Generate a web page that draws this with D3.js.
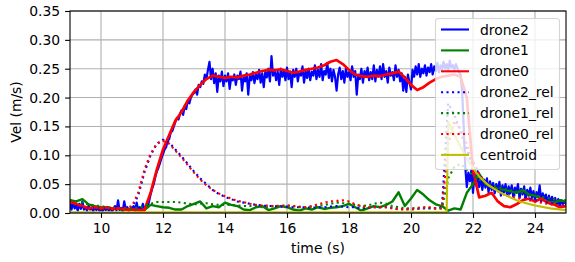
<!DOCTYPE html>
<html>
<head>
<meta charset="utf-8">
<script src="https://cdn.jsdelivr.net/npm/d3@7"></script>
<style>
  body { margin: 0; background: #fff; }
  text { font-family: "DejaVu Sans", sans-serif; fill: #000; }
</style>
</head>
<body>
<div id="chart"></div>
<script>
// sample times (s)
const tBlue = d3.range(180, 501).map(i => i / 20);   // 0.05 s step
const tCoarse = d3.range(45, 126).map(i => i / 5);   // 0.2 s step

// drone2, 0.05 s step, one row per second
const drone2 = [
  0.014, 0.006, 0.018, 0.008, 0.012, 0.004, 0.016, 0.007, 0.020, 0.006, 0.010, 0.004, 0.013, 0.006, 0.009, 0.003, 0.011, 0.005, 0.008, 0.004,
  0.007, 0.003, 0.010, 0.005, 0.008, 0.004, 0.009, 0.003, 0.006, 0.012, 0.004, 0.022, 0.005, 0.009, 0.003, 0.020, 0.006, 0.010, 0.004, 0.008,
  0.006, 0.012, 0.004, 0.018, 0.006, 0.010, 0.005, 0.016, 0.007, 0.011, 0.010, 0.020, 0.032, 0.042, 0.050, 0.062, 0.072, 0.078, 0.086, 0.095,
  0.102, 0.110, 0.114, 0.125, 0.128, 0.140, 0.142, 0.150, 0.158, 0.165, 0.162, 0.172, 0.178, 0.170, 0.186, 0.180, 0.195, 0.190, 0.200, 0.205,
  0.208, 0.214, 0.205, 0.222, 0.218, 0.228, 0.224, 0.240, 0.232, 0.248, 0.262, 0.232, 0.250, 0.225, 0.242, 0.210, 0.238, 0.228, 0.245, 0.220,
  0.238, 0.228, 0.242, 0.215, 0.235, 0.230, 0.240, 0.222, 0.238, 0.232, 0.245, 0.212, 0.236, 0.228, 0.242, 0.205, 0.238, 0.230, 0.244, 0.225,
  0.240, 0.232, 0.248, 0.226, 0.242, 0.218, 0.245, 0.235, 0.250, 0.228, 0.272, 0.238, 0.248, 0.230, 0.245, 0.222, 0.250, 0.236, 0.246, 0.230,
  0.252, 0.232, 0.245, 0.218, 0.248, 0.236, 0.250, 0.228, 0.244, 0.238, 0.254, 0.226, 0.246, 0.234, 0.250, 0.230, 0.245, 0.238, 0.256, 0.232,
  0.248, 0.236, 0.258, 0.230, 0.246, 0.240, 0.260, 0.234, 0.250, 0.228, 0.248, 0.236, 0.212, 0.240, 0.252, 0.232, 0.246, 0.226, 0.250, 0.236,
  0.244, 0.230, 0.254, 0.236, 0.246, 0.205, 0.240, 0.232, 0.250, 0.226, 0.246, 0.236, 0.252, 0.230, 0.244, 0.232, 0.256, 0.228, 0.248, 0.236,
  0.254, 0.232, 0.258, 0.236, 0.246, 0.226, 0.252, 0.238, 0.244, 0.230, 0.256, 0.236, 0.248, 0.228, 0.242, 0.212, 0.236, 0.210, 0.240, 0.226,
  0.214, 0.248, 0.236, 0.254, 0.240, 0.258, 0.236, 0.250, 0.242, 0.256, 0.238, 0.252, 0.244, 0.258, 0.240, 0.254, 0.246, 0.260, 0.244, 0.256,
  0.248, 0.262, 0.250, 0.258, 0.246, 0.264, 0.252, 0.256, 0.248, 0.258, 0.250, 0.244, 0.240, 0.210, 0.150, 0.080, 0.045, 0.070, 0.055, 0.075,
  0.035, 0.068, 0.048, 0.072, 0.045, 0.062, 0.040, 0.058, 0.044, 0.060, 0.036, 0.055, 0.040, 0.052, 0.034, 0.050, 0.038, 0.054, 0.030, 0.048,
  0.036, 0.050, 0.030, 0.046, 0.034, 0.048, 0.028, 0.044, 0.036, 0.050, 0.026, 0.042, 0.032, 0.046, 0.024, 0.040, 0.030, 0.044, 0.026, 0.038,
  0.022, 0.036, 0.028, 0.048, 0.020, 0.034, 0.024, 0.032, 0.018, 0.030, 0.016, 0.028, 0.020, 0.026, 0.014, 0.024, 0.012, 0.022, 0.016, 0.020,
  0.015
];

// 0.2 s step
const drone1 = [
  0.022, 0.020, 0.024, 0.015, 0.012, 0.010, 0.009, 0.008, 0.007, 0.006,
  0.006, 0.005, 0.005, 0.014, 0.012, 0.010, 0.009, 0.006, 0.006, 0.012,
  0.016, 0.020, 0.008, 0.012, 0.010, 0.018, 0.014, 0.012, 0.006, 0.005,
  0.010, 0.012, 0.005, 0.008, 0.012, 0.010, 0.006, 0.004, 0.008, 0.006,
  0.010, 0.007, 0.009, 0.010, 0.012, 0.016, 0.010, 0.004, 0.008, 0.012,
  0.010, 0.014, 0.020, 0.036, 0.012, 0.025, 0.040, 0.032, 0.022, 0.015,
  0.012, 0.004, 0.008, 0.006, 0.035, 0.050, 0.068, 0.050, 0.045, 0.042,
  0.040, 0.038, 0.035, 0.040, 0.032, 0.030, 0.025, 0.020, 0.018, 0.022,
  0.020
];

const drone0 = [
  0.020, 0.015, 0.012, 0.008, 0.010, 0.008, 0.010, 0.007, 0.008, 0.006,
  0.006, 0.005, 0.005, 0.035, 0.075, 0.110, 0.135, 0.160, 0.175, 0.195,
  0.210, 0.222, 0.232, 0.238, 0.236, 0.234, 0.236, 0.235, 0.238, 0.240,
  0.243, 0.246, 0.248, 0.247, 0.249, 0.246, 0.243, 0.245, 0.248, 0.250,
  0.252, 0.256, 0.262, 0.265, 0.258, 0.248, 0.240, 0.237, 0.236, 0.238,
  0.237, 0.240, 0.242, 0.245, 0.235, 0.222, 0.213, 0.218, 0.226, 0.232,
  0.236, 0.238, 0.240, 0.236, 0.200, 0.075, 0.027, 0.030, 0.035, 0.020,
  0.012, 0.010, 0.015, 0.022, 0.025, 0.020, 0.025, 0.018, 0.015, 0.010,
  0.012
];

const drone2Rel = [
  0.015, 0.012, 0.010, 0.010, 0.009, 0.008, 0.008, 0.008, 0.008, 0.009,
  0.010, 0.030, 0.070, 0.100, 0.120, 0.127, 0.122, 0.110, 0.098, 0.085,
  0.072, 0.060, 0.050, 0.040, 0.033, 0.028, 0.024, 0.020, 0.018, 0.016,
  0.014, 0.013, 0.012, 0.012, 0.011, 0.011, 0.010, 0.010, 0.010, 0.009,
  0.010, 0.010, 0.011, 0.012, 0.011, 0.010, 0.010, 0.008, 0.009, 0.010,
  0.010, 0.010, 0.009, 0.006, 0.007, 0.006, 0.007, 0.008, 0.008, 0.008,
  0.010, 0.190, 0.170, 0.140, 0.110, 0.080, 0.065, 0.055, 0.048, 0.042,
  0.037, 0.033, 0.030, 0.028, 0.025, 0.022, 0.020, 0.018, 0.016, 0.014,
  0.013
];

const drone1Rel = [
  0.022, 0.020, 0.018, 0.015, 0.013, 0.012, 0.010, 0.009, 0.008, 0.008,
  0.008, 0.009, 0.012, 0.016, 0.019, 0.019, 0.019, 0.019, 0.018, 0.016,
  0.015, 0.016, 0.017, 0.015, 0.014, 0.014, 0.014, 0.013, 0.012, 0.012,
  0.012, 0.010, 0.010, 0.012, 0.013, 0.013, 0.012, 0.010, 0.010, 0.011,
  0.012, 0.014, 0.016, 0.018, 0.017, 0.016, 0.014, 0.012, 0.013, 0.016,
  0.018, 0.016, 0.012, 0.010, 0.008, 0.008, 0.009, 0.010, 0.009, 0.008,
  0.008, 0.060, 0.080, 0.085, 0.075, 0.065, 0.058, 0.052, 0.048, 0.045,
  0.042, 0.040, 0.037, 0.035, 0.033, 0.030, 0.028, 0.026, 0.024, 0.022,
  0.022
];

const drone0Rel = [
  0.020, 0.016, 0.012, 0.010, 0.009, 0.009, 0.008, 0.008, 0.008, 0.009,
  0.012, 0.035, 0.075, 0.103, 0.120, 0.125, 0.120, 0.108, 0.096, 0.083,
  0.070, 0.058, 0.048, 0.040, 0.034, 0.029, 0.025, 0.021, 0.019, 0.016,
  0.014, 0.013, 0.013, 0.012, 0.012, 0.013, 0.012, 0.011, 0.010, 0.012,
  0.015, 0.018, 0.020, 0.021, 0.022, 0.020, 0.015, 0.012, 0.010, 0.010,
  0.010, 0.010, 0.008, 0.007, 0.006, 0.007, 0.008, 0.009, 0.010, 0.008,
  0.008, 0.120, 0.160, 0.145, 0.120, 0.090, 0.068, 0.052, 0.045, 0.038,
  0.032, 0.028, 0.026, 0.024, 0.022, 0.020, 0.018, 0.016, 0.014, 0.013,
  0.012
];

const centroidT = [9, 12, 15, 18, 21.15, 21.2, 21.4, 21.6, 21.8, 22, 22.2, 22.5, 23, 23.5, 24, 24.5, 25];
const centroid = [0.001, 0.001, 0.001, 0.001, 0.001, 0.158, 0.135, 0.115, 0.095, 0.078, 0.063, 0.048, 0.032, 0.020, 0.013, 0.008, 0.005];

const xTicks = [10, 12, 14, 16, 18, 20, 22, 24];
const yTicks = [0, 0.05, 0.10, 0.15, 0.20, 0.25, 0.30, 0.35];

const dotted = "2.1,3.4";
const series = [
  { name: "drone2", t: tBlue, v: drone2, color: "#0000ff", dash: null, w: 2.2 },
  { name: "drone1", t: tCoarse, v: drone1, color: "#008000", dash: null, w: 2.4 },
  { name: "drone0", t: tCoarse, v: drone0, color: "#ff0000", dash: null, w: 2.7 },
  { name: "drone2_rel", t: tCoarse, v: drone2Rel, color: "#0000ff", dash: dotted, w: 2.1 },
  { name: "drone1_rel", t: tCoarse, v: drone1Rel, color: "#008000", dash: dotted, w: 2.1 },
  { name: "drone0_rel", t: tCoarse, v: drone0Rel, color: "#ff0000", dash: dotted, w: 2.1 },
  { name: "centroid", t: centroidT, v: centroid, color: "#bfbf00", dash: null, w: 2.1 }
];

const W = 575, H = 262;
const margin = { left: 70, right: 9, top: 11, bottom: 49 };
const iw = W - margin.left - margin.right;
const ih = H - margin.top - margin.bottom;

const svg = d3.select("#chart").append("svg")
  .attr("width", W).attr("height", H);

const x = d3.scaleLinear().domain([9, 25]).range([0, iw]);
const y = d3.scaleLinear().domain([0, 0.35]).range([ih, 0]);

const g = svg.append("g").attr("transform", `translate(${margin.left},${margin.top})`);

svg.append("defs").append("clipPath").attr("id", "clip")
  .append("rect").attr("width", iw).attr("height", ih);

// grid
g.append("g").selectAll("line").data(xTicks).join("line")
  .attr("x1", d => x(d)).attr("x2", d => x(d)).attr("y1", 0).attr("y2", ih)
  .attr("stroke", "#b0b0b0").attr("stroke-width", 1.1);
g.append("g").selectAll("line").data(yTicks).join("line")
  .attr("y1", d => y(d)).attr("y2", d => y(d)).attr("x1", 0).attr("x2", iw)
  .attr("stroke", "#b0b0b0").attr("stroke-width", 1.1);

// lines
const line = d3.line().x(d => x(d[0])).y(d => y(d[1]));
const plot = g.append("g").attr("clip-path", "url(#clip)");
series.forEach(s => {
  plot.append("path")
    .datum(s.t.map((t, i) => [t, s.v[i]]))
    .attr("d", line)
    .attr("fill", "none")
    .attr("stroke", s.color)
    .attr("stroke-width", s.w)
    .attr("stroke-linejoin", "round")
    .attr("stroke-linecap", s.dash ? "butt" : "square")
    .attr("stroke-dasharray", s.dash);
});

// axes
const xAxis = g.append("g").attr("transform", `translate(0,${ih})`)
  .call(d3.axisBottom(x).tickValues(xTicks).tickSize(4.9).tickPadding(4.9).tickFormat(d3.format("d")));
const yAxis = g.append("g")
  .call(d3.axisLeft(y).tickValues(yTicks).tickSize(4.9).tickPadding(4.9).tickFormat(d3.format(".2f")));
[xAxis, yAxis].forEach(a => {
  a.select(".domain").remove();
  a.selectAll("line").attr("stroke", "#000").attr("stroke-width", 1.1);
  a.selectAll("text").attr("font-size", "13.9px").attr("font-family", "DejaVu Sans");
});

// frame
g.append("rect").attr("width", iw).attr("height", ih)
  .attr("fill", "none").attr("stroke", "#000").attr("stroke-width", 1.1);

svg.append("text")
  .attr("x", margin.left + iw / 2).attr("y", 253)
  .attr("text-anchor", "middle").attr("font-size", "13.9px")
  .text("time (s)");
svg.append("text")
  .attr("transform", `translate(21,${margin.top + ih / 2}) rotate(-90)`)
  .attr("text-anchor", "middle").attr("font-size", "13.9px")
  .text("Vel (m/s)");

// legend
const leg = svg.append("g").attr("transform", "translate(435.5,18.5)");
leg.append("rect").attr("width", 124).attr("height", 151).attr("rx", 3)
  .attr("fill", "#fff").attr("fill-opacity", 0.8)
  .attr("stroke", "#cccccc").attr("stroke-opacity", 0.8).attr("stroke-width", 1.1);
series.forEach((s, i) => {
  const yy = 11 + i * 20.9;
  leg.append("line").attr("x1", 5.5).attr("x2", 33.5).attr("y1", yy).attr("y2", yy)
    .attr("stroke", s.color).attr("stroke-width", 2.1)
    .attr("stroke-dasharray", s.dash);
  leg.append("text").attr("x", 44.5).attr("y", yy + 5)
    .attr("font-size", "13.9px").text(s.name);
});
</script>
</body>
</html>
